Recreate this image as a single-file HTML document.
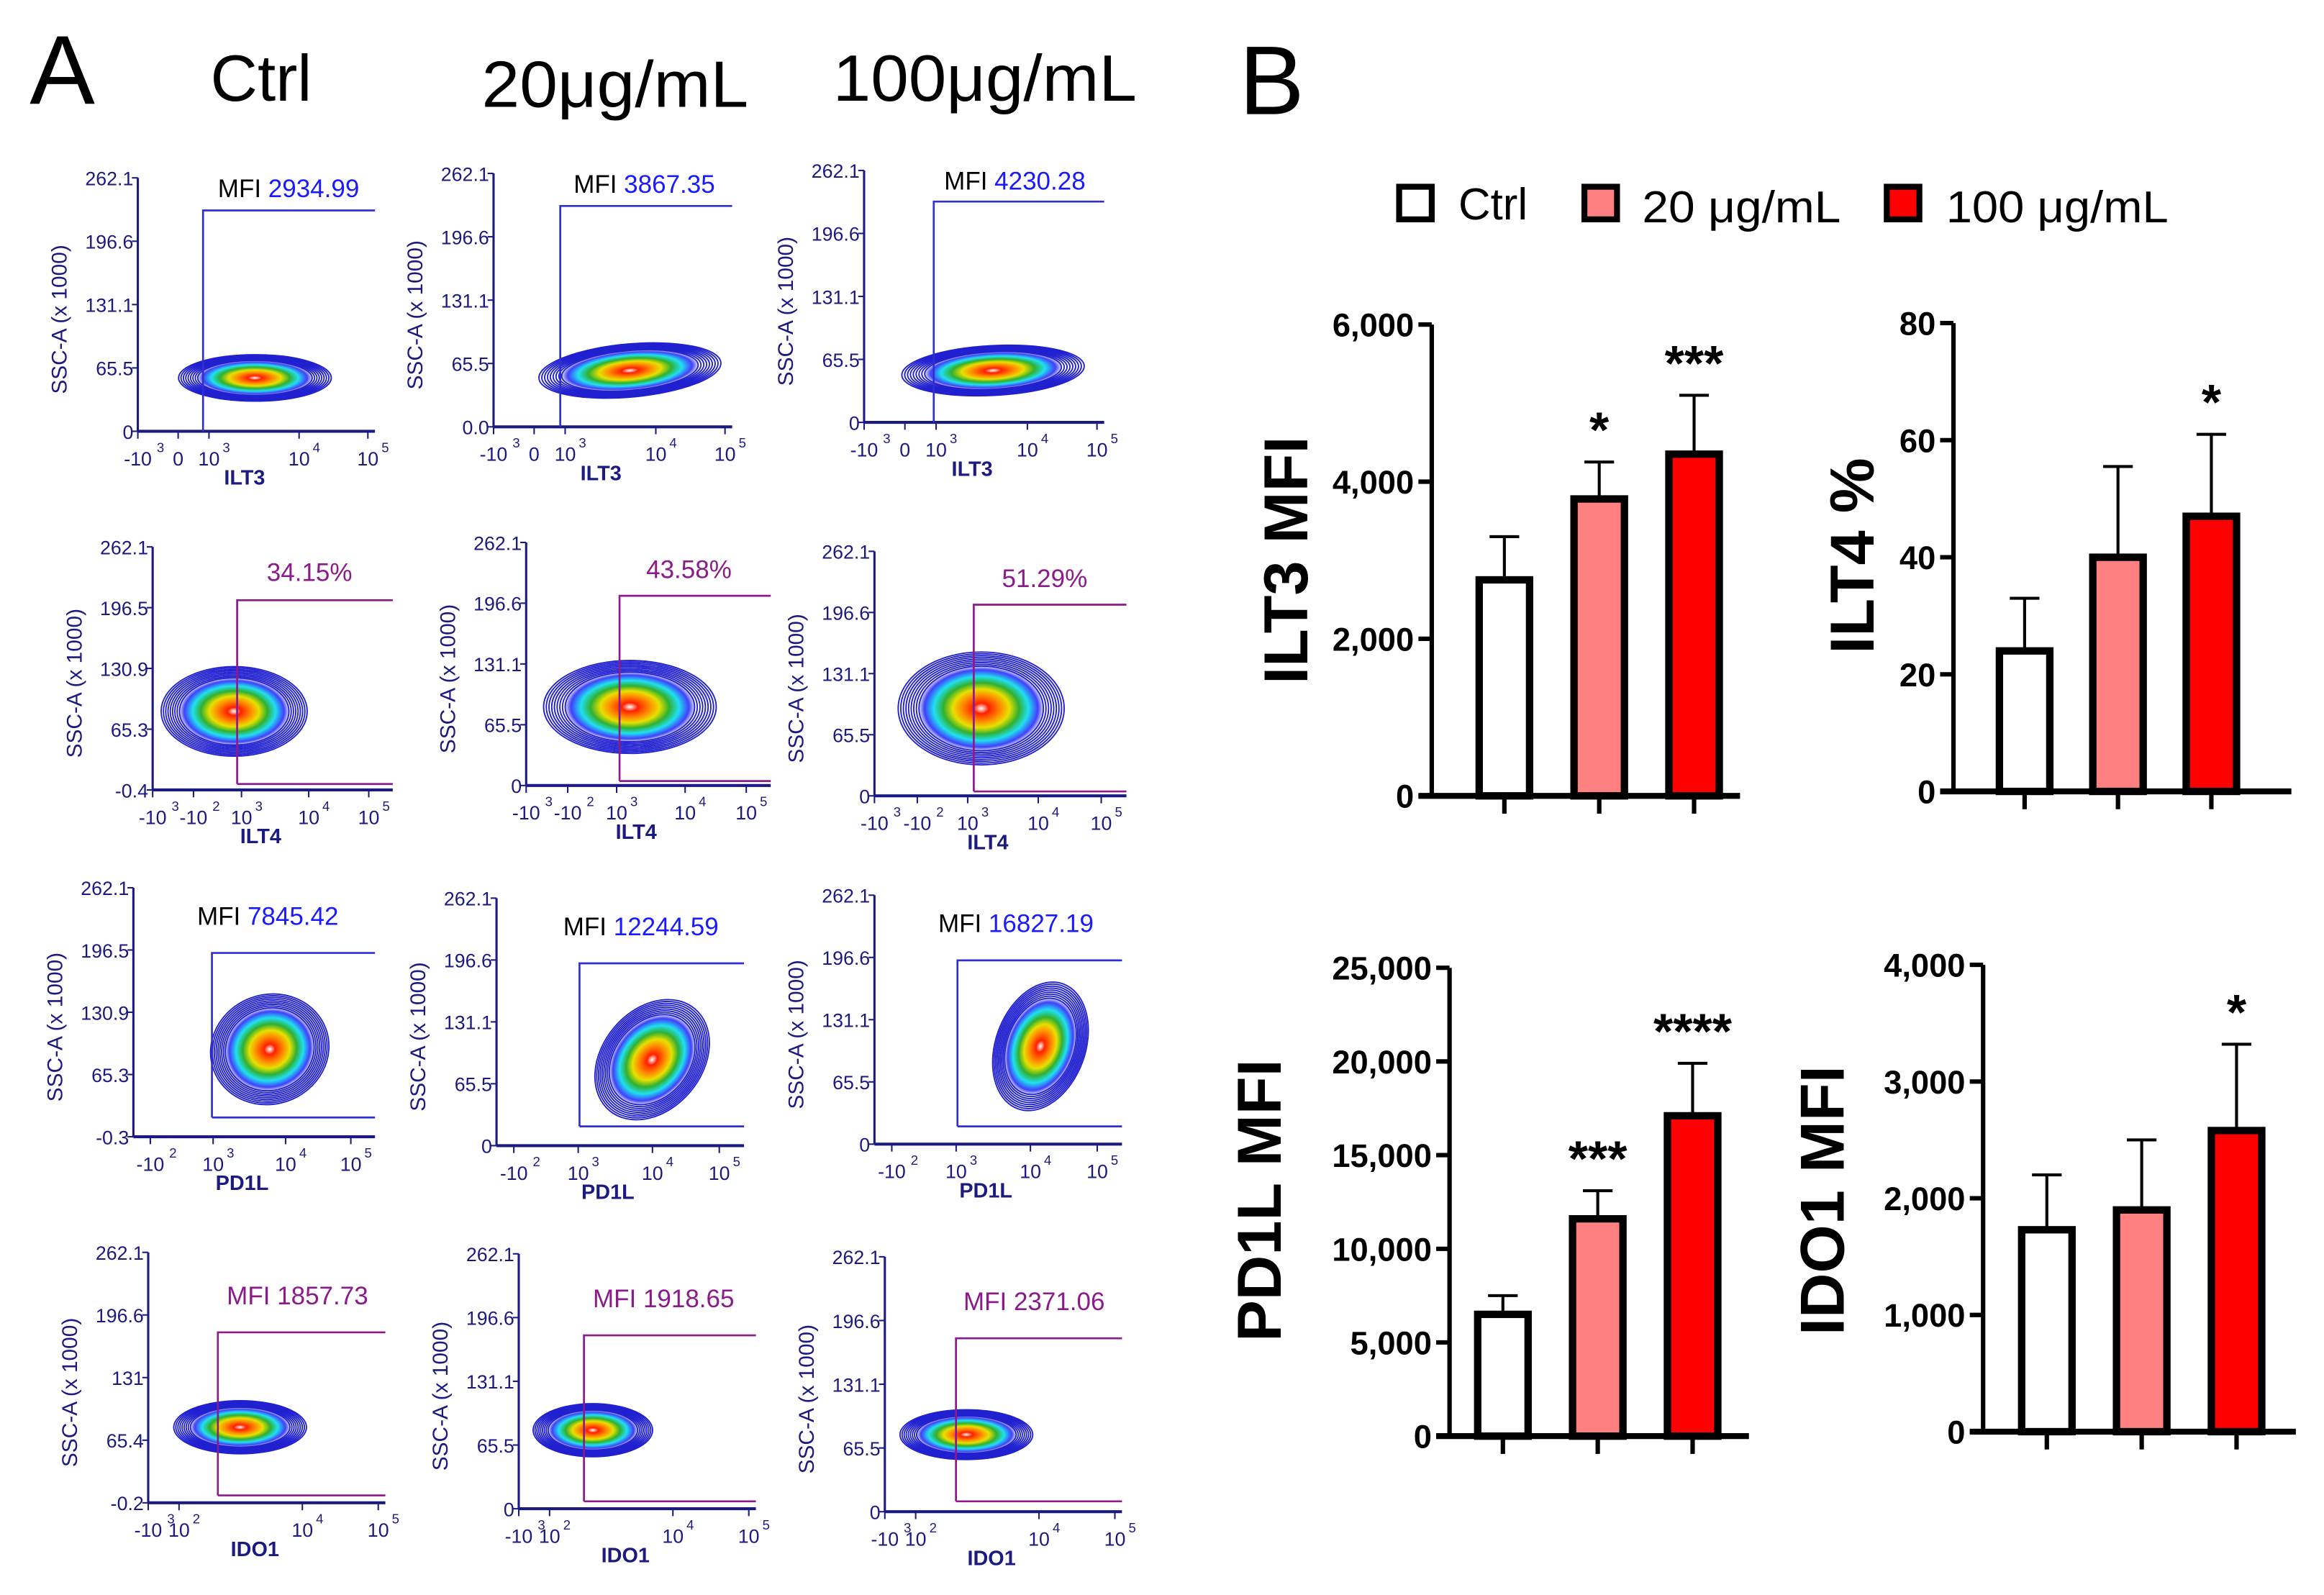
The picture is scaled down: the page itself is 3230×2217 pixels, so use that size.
<!DOCTYPE html>
<html><head><meta charset="utf-8"><style>
html,body{margin:0;padding:0;background:#fff;}
svg{display:block;}
text{font-family:"Liberation Sans",sans-serif;}
</style></head><body>
<svg id="fig" width="3230" height="2217" viewBox="0 0 1568 1076.2" preserveAspectRatio="none" xmlns="http://www.w3.org/2000/svg">
<defs>
<radialGradient id="heat">
<stop offset="0" stop-color="#ffffff"/>
<stop offset="0.12" stop-color="#ff2000"/>
<stop offset="0.3" stop-color="#ff8800"/>
<stop offset="0.45" stop-color="#e8e000"/>
<stop offset="0.6" stop-color="#30b030"/>
<stop offset="0.75" stop-color="#20e0f0"/>
<stop offset="0.9" stop-color="#4040ff"/>
<stop offset="1" stop-color="#2020c0" stop-opacity="0"/>
</radialGradient>
</defs>
<text x="20" y="70" font-size="66">A</text>
<text x="836" y="77" font-size="66">B</text>
<text x="142" y="68" font-size="44">Ctrl</text>
<text x="325" y="72" font-size="44" textLength="180" lengthAdjust="spacingAndGlyphs">20μg/mL</text>
<text x="562" y="68" font-size="44" textLength="205" lengthAdjust="spacingAndGlyphs">100μg/mL</text>
<g id="flow"></g>
<g id="legend">
<rect x="944" y="126" width="22" height="22" fill="#fff" stroke="#000" stroke-width="4"/>
<text x="984" y="148" font-size="30">Ctrl</text>
<rect x="1069" y="126" width="22" height="22" fill="#ff8080" stroke="#000" stroke-width="4"/>
<text x="1108" y="150" font-size="30" textLength="134" lengthAdjust="spacingAndGlyphs">20 μg/mL</text>
<rect x="1273" y="126" width="22" height="22" fill="#ff0000" stroke="#000" stroke-width="4"/>
<text x="1313" y="150" font-size="30" textLength="150" lengthAdjust="spacingAndGlyphs">100 μg/mL</text>
</g>
<g id="bars"></g>
</svg>
<script>
// ---- bar chart data ----
const groups = ["Ctrl","20 μg/mL","100 μg/mL"];
const ilt3Values = [2750, 3780, 4350];
const ilt3Errors = [3300, 4250, 5100];
const ilt3Ticks = [0, 2000, 4000, 6000];
const ilt3Stars = ["", "*", "***"];
const ilt4Values = [24, 40, 47];
const ilt4Errors = [33, 55.5, 61];
const ilt4Ticks = [0, 20, 40, 60, 80];
const ilt4Stars = ["", "", "*"];
const pd1lValues = [6500, 11600, 17100];
const pd1lErrors = [7500, 13100, 19900];
const pd1lTicks = [0, 5000, 10000, 15000, 20000, 25000];
const pd1lStars = ["", "***", "****"];
const ido1Values = [1730, 1900, 2580];
const ido1Errors = [2200, 2500, 3320];
const ido1Ticks = [0, 1000, 2000, 3000, 4000];
const ido1Stars = ["", "", "*"];
const fills = ["#ffffff","#ff8080","#ff0000"];

const NS="http://www.w3.org/2000/svg";
function mk(tag, attrs, parent){const e=document.createElementNS(NS,tag);for(const k in attrs)e.setAttribute(k,attrs[k]);parent.appendChild(e);return e;}
function fmt(v){return v.toLocaleString('en-US');}

function barChart(cfg){
  const g=mk('g',{},document.getElementById('bars'));
  
  
  const max=cfg.ticks[cfg.ticks.length-1];
  const y=v=>cfg.y0-(v/max)*(cfg.y0-cfg.yTop);
  const x=i=>cfg.x0+cfg.gap*i;
  const ya=mk('line',{x1:cfg.ax,y1:y(max),x2:cfg.ax,y2:cfg.y0,stroke:'#000','stroke-width':3},g);
  
  
  cfg.ticks.forEach(t=>{
    mk('line',{x1:cfg.ax-9,y1:y(t),x2:cfg.ax,y2:y(t),stroke:'#000','stroke-width':3},g);
    const tl=mk('text',{x:cfg.ax-12,y:y(t)+8,'font-size':22,'font-weight':'bold','text-anchor':'end'},g);
    tl.textContent=fmt(t);
    
    
  });
  cfg.values.forEach((v,i)=>{
    const cx=x(i), w=34;
    const eb=mk('g',{},g);
    
    
    mk('line',{x1:cx,y1:y(v),x2:cx,y2:y(cfg.errors[i]),stroke:'#000','stroke-width':2},eb);
    mk('line',{x1:cx-10,y1:y(cfg.errors[i]),x2:cx+10,y2:y(cfg.errors[i]),stroke:'#000','stroke-width':2},eb);
    const r=mk('rect',{x:cx-w/2,y:y(v),width:w,height:cfg.y0-y(v),fill:fills[i],stroke:'#000','stroke-width':5},g);
    
    
    mk('line',{x1:cx,y1:cfg.y0,x2:cx,y2:cfg.y0+12,stroke:'#000','stroke-width':3},g);
    if(cfg.stars[i]){
      const s=mk('text',{x:cx,y:y(cfg.errors[i])-10,'font-size':34,'font-weight':'bold','text-anchor':'middle'},g);
      s.textContent=cfg.stars[i];
      
      
    }
  });
  const xa=mk('line',{x1:cfg.ax-9,y1:cfg.y0,x2:cfg.xEnd,y2:cfg.y0,stroke:'#000','stroke-width':4},g);
  
  
  const lab=mk('text',{x:cfg.lx,y:cfg.ly,'font-size':42,'font-weight':'bold','text-anchor':'middle',transform:`rotate(-90 ${cfg.lx} ${cfg.ly})`},g);
  lab.textContent=cfg.label;
  
  
}
barChart({name:'ilt3-chart',values:ilt3Values,errors:ilt3Errors,ticks:ilt3Ticks,stars:ilt3Stars,ax:966,yTop:219,y0:537,x0:1015,gap:64,xEnd:1174,label:'ILT3 MFI',lx:882,ly:378});
barChart({name:'ilt4-chart',values:ilt4Values,errors:ilt4Errors,ticks:ilt4Ticks,stars:ilt4Stars,ax:1318,yTop:218,y0:534,x0:1366,gap:63,xEnd:1546,label:'ILT4 %',lx:1264,ly:375});
barChart({name:'pd1l-chart',values:pd1lValues,errors:pd1lErrors,ticks:pd1lTicks,stars:pd1lStars,ax:978,yTop:653,y0:969,x0:1014,gap:64,xEnd:1180,label:'PD1L MFI',lx:864,ly:810});
barChart({name:'ido1-chart',values:ido1Values,errors:ido1Errors,ticks:ido1Ticks,stars:ido1Stars,ax:1338,yTop:651,y0:966,x0:1381,gap:64,xEnd:1549,label:'IDO1 MFI',lx:1244,ly:810});

// ---- flow plots ----
const xt3=[['-10','3',0.0],['0',null,0.17],['10','3',0.3],['10','4',0.68],['10','5',0.97]];
const xt4=[['-10','3',0.0],['-10','2',0.17],['10','3',0.37],['10','4',0.65],['10','5',0.9]];
const xtp=[['-10','2',0.07],['10','3',0.33],['10','4',0.63],['10','5',0.9]];
const xti=[['-10','3',0.0],['10','2',0.13],['10','4',0.65],['10','5',0.97]];
const flowPlots=[
 {ax:93,top:120,bot:291,right:253,yt:['262.1','196.6','131.1','65.5','0'],xl:'ILT3',gx:137,gt:142,gb:291,bx:172,by:255,rx:46,ry:14,rot:0,lab:['MFI','2934.99'],lc:'#1a1aff',lx:147,ly:133,xt:xt3},
 {ax:333,top:117,bot:288,right:494,yt:['262.1','196.6','131.1','65.5','0.0'],xl:'ILT3',gx:378,gt:139,gb:288,bx:425,by:250,rx:55,ry:16,rot:-5,lab:['MFI','3867.35'],lc:'#1a1aff',lx:387,ly:130,xt:xt3},
 {ax:583,top:115,bot:285,right:745,yt:['262.1','196.6','131.1','65.5','0'],xl:'ILT3',gx:630,gt:136,gb:285,bx:670,by:250,rx:55,ry:15,rot:-3,lab:['MFI','4230.28'],lc:'#1a1aff',lx:637,ly:128,xt:xt3},
 {ax:103,top:369,bot:533,right:265,yt:['262.1','196.5','130.9','65.3','-0.4'],xl:'ILT4',gx:160,gt:405,gb:529,bx:158,by:480,rx:44,ry:27,rot:0,lab:['','34.15%'],lc:'#8b1a8b',lx:180,ly:392,xt:xt4},
 {ax:355,top:366,bot:530,right:520,yt:['262.1','196.6','131.1','65.5','0'],xl:'ILT4',gx:418,gt:402,gb:527,bx:425,by:477,rx:52,ry:28,rot:0,lab:['','43.58%'],lc:'#8b1a8b',lx:436,ly:390,xt:xt4},
 {ax:590,top:372,bot:537,right:760,yt:['262.1','196.6','131.1','65.5','0'],xl:'ILT4',gx:657,gt:408,gb:534,bx:662,by:478,rx:50,ry:34,rot:0,lab:['','51.29%'],lc:'#8b1a8b',lx:676,ly:396,xt:xt4},
 {ax:90,top:599,bot:767,right:253,yt:['262.1','196.5','130.9','65.3','-0.3'],xl:'PD1L',gx:143,gt:643,gb:754,bx:182,by:708,rx:36,ry:33,rot:-20,lab:['MFI','7845.42'],lc:'#1a1aff',lx:133,ly:624,xt:xtp,box:1},
 {ax:335,top:606,bot:773,right:502,yt:['262.1','196.6','131.1','65.5','0'],xl:'PD1L',gx:391,gt:650,gb:760,bx:440,by:715,rx:30,ry:40,rot:40,lab:['MFI','12244.59'],lc:'#1a1aff',lx:380,ly:631,xt:xtp,box:1},
 {ax:590,top:604,bot:772,right:757,yt:['262.1','196.6','131.1','65.5','0'],xl:'PD1L',gx:646,gt:648,gb:760,bx:702,by:706,rx:27,ry:40,rot:20,lab:['MFI','16827.19'],lc:'#1a1aff',lx:633,ly:629,xt:xtp,box:1},
 {ax:100,top:845,bot:1014,right:260,yt:['262.1','196.6','131','65.4','-0.2'],xl:'IDO1',gx:147,gt:899,gb:1009,bx:162,by:963,rx:40,ry:16,rot:0,lab:['','MFI 1857.73'],lc:'#8b1a8b',lx:153,ly:880,xt:xti},
 {ax:350,top:846,bot:1018,right:510,yt:['262.1','196.6','131.1','65.5','0'],xl:'IDO1',gx:394,gt:901,gb:1013,bx:400,by:965,rx:36,ry:16,rot:0,lab:['','MFI 1918.65'],lc:'#8b1a8b',lx:400,ly:882,xt:xti},
 {ax:597,top:848,bot:1020,right:757,yt:['262.1','196.6','131.1','65.5','0'],xl:'IDO1',gx:645,gt:903,gb:1013,bx:652,by:968,rx:40,ry:15,rot:0,lab:['','MFI 2371.06'],lc:'#8b1a8b',lx:650,ly:884,xt:xti}
];
const navy='#1a1a80';
flowPlots.forEach((p,idx)=>{
  const g=mk('g',{},document.getElementById('flow'));
  
  
  mk('line',{x1:p.ax,y1:p.top,x2:p.ax,y2:p.bot,stroke:navy,'stroke-width':1.5},g);
  mk('line',{x1:p.ax,y1:p.bot,x2:p.right,y2:p.bot,stroke:navy,'stroke-width':2},g);
  p.yt.forEach((t,i)=>{
    const yy=p.top+(p.bot-p.top)*i/4;
    mk('line',{x1:p.ax-4,y1:yy,x2:p.ax,y2:yy,stroke:navy,'stroke-width':1},g);
    const tl=mk('text',{x:p.ax-3,y:yy+5,'font-size':13,fill:navy,'text-anchor':'end'},g);
    tl.textContent=t;
  });
  const yl=(p.top+p.bot)/2+10, xl=p.ax-48;
  const yt=mk('text',{x:xl,y:yl,'font-size':14.5,fill:navy,'text-anchor':'middle',transform:`rotate(-90 ${xl} ${yl})`},g);
  yt.textContent='SSC-A (x 1000)';
  
  
  const W=p.right-p.ax;
  p.xt.forEach(t=>{
    const tx=p.ax+W*t[2];
    mk('line',{x1:tx,y1:p.bot,x2:tx,y2:p.bot+5,stroke:navy,'stroke-width':1},g);
    const tt=mk('text',{x:tx,y:p.bot+23,'font-size':13,fill:navy,'text-anchor':'middle'},g);
    tt.textContent=t[0];
    if(t[1]){const s=mk('text',{x:tx+t[0].length*3.6+2,y:p.bot+14,'font-size':9,fill:navy},g);s.textContent=t[1];}
  });
  const xa=mk('text',{x:p.ax+W*0.45,y:p.bot+36,'font-size':14,fill:navy,'font-weight':'bold','text-anchor':'middle'},g);
  xa.textContent=p.xl;
  
  
  const bg=mk('g',{transform:`rotate(${p.rot} ${p.bx} ${p.by})`},g);
  for(let k=0;k<9;k++){
    const f=1.12-k*0.035;
    mk('ellipse',{cx:p.bx,cy:p.by,rx:p.rx*f,ry:p.ry*f,fill:'none',stroke:'#2020d0','stroke-width':0.9},bg);
  }
  mk('ellipse',{cx:p.bx,cy:p.by,rx:p.rx*0.85,ry:p.ry*0.85,fill:'url(#heat)'},bg);
  const col=p.lc==='#1a1aff'?'#3030d0':'#8b1a8b';
  const gate=mk('path',{d:(idx<3?`M${p.gx},${p.gb}V${p.gt}H${p.right}`:`M${p.gx},${p.gb}V${p.gt}H${p.right}M${p.gx},${p.gb}H${p.right}`),fill:'none',stroke:col,'stroke-width':1.3},g);
  
  
  const lt=mk('text',{x:p.lx,y:p.ly,'font-size':17},g);
  
  
  if(p.lab[0]){const a=mk('tspan',{fill:'#000'},lt);a.textContent=p.lab[0]+' ';}
  const b=mk('tspan',{fill:p.lc},lt);b.textContent=p.lab[1];
});
</script>
</body></html>
